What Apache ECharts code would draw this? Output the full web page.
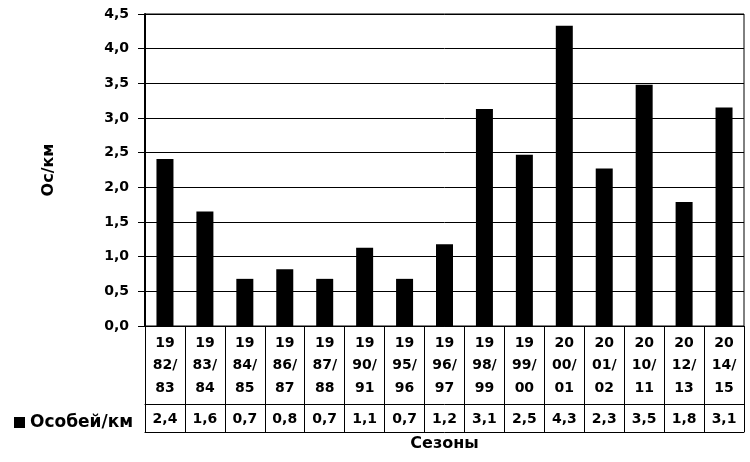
<!DOCTYPE html>
<html>
<head>
<meta charset="utf-8">
<script src="https://cdn.jsdelivr.net/npm/echarts@6/dist/echarts.min.js"></script>
<style>html,body{margin:0;padding:0;background:#fff}#c{width:750px;height:462px}</style>
</head>
<body>
<div id="c"></div>
<script>
var categories = ['19\n82/\n83','19\n83/\n84','19\n84/\n85','19\n86/\n87','19\n87/\n88','19\n90/\n91','19\n95/\n96','19\n96/\n97','19\n98/\n99','19\n99/\n00','20\n00/\n01','20\n01/\n02','20\n10/\n11','20\n12/\n13','20\n14/\n15'];
var values = [2.41,1.65,0.68,0.82,0.68,1.13,0.68,1.18,3.13,2.47,4.33,2.27,3.48,1.79,3.15];
var tableLabels = ['2,4','1,6','0,7','0,8','0,7','1,1','0,7','1,2','3,1','2,5','4,3','2,3','3,5','1,8','3,1'];
var seriesName = 'Особей/км';
var yTitle = 'Ос/км';
var xTitle = 'Сезоны';

var FONT = 'DejaVu Sans';
var txt = {fontFamily: FONT, fontWeight: 'bold', fontSize: 14, color: '#000'};
var chart = echarts.init(document.getElementById('c'), null, {renderer: 'canvas'});
chart.setOption({
  animation: false,
  backgroundColor: '#fff',
  grid: {left: 145, right: 6, top: 14, bottom: 136, show: true, borderColor: '#000', borderWidth: 1, containLabel: false},
  legend: {
    data: [seriesName], left: 9, top: 409, icon: 'rect', itemWidth: 11, itemHeight: 11,
    textStyle: Object.assign({}, txt, {fontSize: 17})
  },
  xAxis: [
    {
      type: 'category', data: categories, position: 'bottom',
      axisLine: {show: true, lineStyle: {color: '#000', width: 1}},
      axisTick: {show: true, length: 106, interval: 0, lineStyle: {color: '#000', width: 1}},
      axisLabel: Object.assign({}, txt, {interval: 0, margin: 6, lineHeight: 22.5}),
      splitLine: {show: false}
    },
    {
      type: 'category', data: tableLabels, position: 'bottom', offset: 78,
      axisLine: {show: true, lineStyle: {color: '#000', width: 1}},
      axisTick: {show: false},
      axisLabel: Object.assign({}, txt, {interval: 0, margin: 8})
    },
    {
      type: 'category', data: categories, position: 'bottom', offset: 106,
      axisLine: {show: true, lineStyle: {color: '#000', width: 1}},
      axisTick: {show: false}, axisLabel: {show: false},
      name: xTitle, nameLocation: 'middle', nameGap: 4,
      nameTextStyle: Object.assign({}, txt, {fontSize: 16})
    }
  ],
  yAxis: {
    type: 'value', min: 0, max: 4.5, interval: 0.5,
    name: yTitle, nameLocation: 'middle', nameGap: 88,
    nameTextStyle: Object.assign({}, txt, {fontSize: 16}),
    axisLine: {show: true, lineStyle: {color: '#000', width: 2}},
    axisTick: {show: true, length: 7, lineStyle: {color: '#000', width: 1}},
    axisLabel: Object.assign({}, txt, {margin: 16, formatter: function (v) { return v.toFixed(1).replace('.', ','); }}),
    splitLine: {show: true, lineStyle: {color: '#000', width: 1}}
  },
  series: [{
    name: seriesName, type: 'bar', data: values, barWidth: 17,
    itemStyle: {color: '#000'}, xAxisIndex: 0
  }]
});
</script>
</body>
</html>
